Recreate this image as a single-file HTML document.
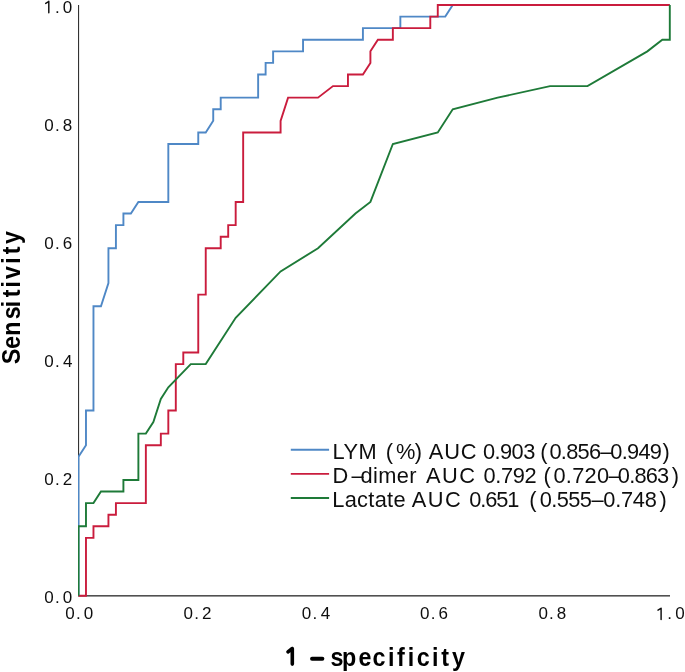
<!DOCTYPE html>
<html><head><meta charset="utf-8"><style>
html,body{margin:0;padding:0;background:#fff;}
svg{display:block;will-change:transform;}
text{font-family:"Liberation Sans", sans-serif;}
</style></head><body>
<svg width="685" height="672" viewBox="0 0 685 672">
<rect width="685" height="672" fill="#fff"/>
<defs><clipPath id="pc"><rect x="77.9" y="0" width="600" height="600"/></clipPath></defs>
<rect x="78" y="5" width="1.1" height="591" fill="#333"/>
<rect x="78" y="595" width="592" height="1.6" fill="#505050"/>
<polyline clip-path="url(#pc)" points="78.50,595.80 78.50,456.79 85.98,445.20 85.98,410.45 93.47,410.45 93.47,306.19 100.95,306.19 108.44,283.02 108.44,248.27 115.92,248.27 115.92,225.10 123.41,225.10 123.41,213.52 130.89,213.52 138.38,201.93 168.32,201.93 168.32,144.01 198.26,144.01 198.26,132.43 205.74,132.43 213.23,120.84 213.23,109.26 220.71,109.26 220.71,97.67 258.14,97.67 258.14,74.51 265.62,74.51 265.62,62.92 273.11,62.92 273.11,51.34 303.04,51.34 303.04,39.75 362.92,39.75 362.92,28.17 400.35,28.17 400.35,16.58 445.26,16.58 452.74,5.00 669.80,5.00" fill="none" stroke="#4f88c6" stroke-width="1.9" stroke-linejoin="miter" stroke-linecap="butt"/>
<polyline clip-path="url(#pc)" points="78.50,595.80 85.98,595.80 85.98,537.88 93.47,537.88 93.47,526.29 108.44,526.29 108.44,514.71 115.92,514.71 115.92,503.13 145.86,503.13 145.86,445.20 160.83,445.20 160.83,433.62 168.32,433.62 168.32,410.45 175.80,410.45 175.80,364.11 183.29,364.11 183.29,352.53 198.26,352.53 198.26,294.61 205.74,294.61 205.74,248.27 220.71,248.27 220.71,236.69 228.20,236.69 228.20,225.10 235.68,225.10 235.68,201.93 243.17,201.93 243.17,132.43 280.59,132.43 280.59,120.84 288.07,97.67 318.01,97.67 332.98,86.09 347.95,86.09 347.95,74.51 362.92,74.51 370.41,62.92 370.41,51.34 377.89,39.75 392.86,39.75 392.86,28.17 430.29,28.17 430.29,16.58 437.77,16.58 437.77,5.00 669.80,5.00" fill="none" stroke="#ca1c3d" stroke-width="1.9" stroke-linejoin="miter" stroke-linecap="butt"/>
<polyline clip-path="url(#pc)" points="78.50,595.80 78.50,526.29 85.98,526.29 85.98,503.13 93.47,503.13 100.95,491.54 123.41,491.54 123.41,479.96 138.38,479.96 138.38,433.62 145.86,433.62 153.35,422.04 160.83,398.87 168.32,387.28 190.77,364.11 205.74,364.11 235.68,317.78 280.59,271.44 318.01,248.27 355.44,213.52 370.41,201.93 392.86,144.01 437.77,132.43 452.74,109.26 497.65,97.67 550.04,86.09 587.47,86.09 647.35,51.34 662.32,39.75 669.80,39.75 669.80,5.00" fill="none" stroke="#1e7a38" stroke-width="1.9" stroke-linejoin="miter" stroke-linecap="butt"/>
<path d="M48.80 1.30 L48.80 12.65 M48.60 1.60 L45.70 3.40" fill="none" stroke="#0e0e0e" stroke-width="1.45" stroke-linecap="round" stroke-linejoin="round"/><text x="54.95" y="12.60" font-size="17" font-weight="normal" letter-spacing="0.000" fill="#0e0e0e" >.</text><text x="62.84" y="12.60" font-size="17" font-weight="normal" letter-spacing="0.000" fill="#0e0e0e" >0</text>
<text x="44.34" y="130.76" font-size="17" font-weight="normal" letter-spacing="0.000" fill="#0e0e0e" >0</text><text x="54.95" y="130.76" font-size="17" font-weight="normal" letter-spacing="0.000" fill="#0e0e0e" >.</text><text x="62.76" y="130.76" font-size="17" font-weight="normal" letter-spacing="0.000" fill="#0e0e0e" >8</text>
<text x="44.34" y="248.92" font-size="17" font-weight="normal" letter-spacing="0.000" fill="#0e0e0e" >0</text><text x="54.95" y="248.92" font-size="17" font-weight="normal" letter-spacing="0.000" fill="#0e0e0e" >.</text><text x="62.64" y="248.92" font-size="17" font-weight="normal" letter-spacing="0.000" fill="#0e0e0e" >6</text>
<text x="44.34" y="367.08" font-size="17" font-weight="normal" letter-spacing="0.000" fill="#0e0e0e" >0</text><text x="54.95" y="367.08" font-size="17" font-weight="normal" letter-spacing="0.000" fill="#0e0e0e" >.</text><text x="63.11" y="367.08" font-size="17" font-weight="normal" letter-spacing="0.000" fill="#0e0e0e" >4</text>
<text x="44.34" y="485.24" font-size="17" font-weight="normal" letter-spacing="0.000" fill="#0e0e0e" >0</text><text x="54.95" y="485.24" font-size="17" font-weight="normal" letter-spacing="0.000" fill="#0e0e0e" >.</text><text x="62.65" y="485.24" font-size="17" font-weight="normal" letter-spacing="0.000" fill="#0e0e0e" >2</text>
<text x="44.34" y="603.40" font-size="17" font-weight="normal" letter-spacing="0.000" fill="#0e0e0e" >0</text><text x="54.95" y="603.40" font-size="17" font-weight="normal" letter-spacing="0.000" fill="#0e0e0e" >.</text><text x="62.84" y="603.40" font-size="17" font-weight="normal" letter-spacing="0.000" fill="#0e0e0e" >0</text>
<text x="65.34" y="619.40" font-size="17" font-weight="normal" letter-spacing="0.000" fill="#0e0e0e" >0</text><text x="75.95" y="619.40" font-size="17" font-weight="normal" letter-spacing="0.000" fill="#0e0e0e" >.</text><text x="83.84" y="619.40" font-size="17" font-weight="normal" letter-spacing="0.000" fill="#0e0e0e" >0</text>
<text x="183.60" y="619.40" font-size="17" font-weight="normal" letter-spacing="0.000" fill="#0e0e0e" >0</text><text x="194.21" y="619.40" font-size="17" font-weight="normal" letter-spacing="0.000" fill="#0e0e0e" >.</text><text x="201.91" y="619.40" font-size="17" font-weight="normal" letter-spacing="0.000" fill="#0e0e0e" >2</text>
<text x="301.86" y="619.40" font-size="17" font-weight="normal" letter-spacing="0.000" fill="#0e0e0e" >0</text><text x="312.47" y="619.40" font-size="17" font-weight="normal" letter-spacing="0.000" fill="#0e0e0e" >.</text><text x="320.63" y="619.40" font-size="17" font-weight="normal" letter-spacing="0.000" fill="#0e0e0e" >4</text>
<text x="420.12" y="619.40" font-size="17" font-weight="normal" letter-spacing="0.000" fill="#0e0e0e" >0</text><text x="430.73" y="619.40" font-size="17" font-weight="normal" letter-spacing="0.000" fill="#0e0e0e" >.</text><text x="438.42" y="619.40" font-size="17" font-weight="normal" letter-spacing="0.000" fill="#0e0e0e" >6</text>
<text x="538.38" y="619.40" font-size="17" font-weight="normal" letter-spacing="0.000" fill="#0e0e0e" >0</text><text x="548.99" y="619.40" font-size="17" font-weight="normal" letter-spacing="0.000" fill="#0e0e0e" >.</text><text x="556.80" y="619.40" font-size="17" font-weight="normal" letter-spacing="0.000" fill="#0e0e0e" >8</text>
<path d="M661.10 608.10 L661.10 619.45 M660.90 608.40 L658.00 610.20" fill="none" stroke="#0e0e0e" stroke-width="1.45" stroke-linecap="round" stroke-linejoin="round"/><text x="667.25" y="619.40" font-size="17" font-weight="normal" letter-spacing="0.000" fill="#0e0e0e" >.</text><text x="675.14" y="619.40" font-size="17" font-weight="normal" letter-spacing="0.000" fill="#0e0e0e" >0</text>
<path d="M292.3 648.6 L292.3 664.1 M292.0 648.6 L288.0 651.9" fill="none" stroke="#000" stroke-width="3.6" stroke-linecap="round" stroke-linejoin="round"/>
<line x1="312.0" y1="658.8" x2="322.4" y2="658.8" stroke="#000" stroke-width="3.9" stroke-linecap="round"/>
<text transform="scale(0.88,1)" x="375.66 388.74 407.34 423.18 440.99 451.24 463.49 473.52 490.99 501.50 513.73" y="665.70" font-size="26.5" font-weight="bold" fill="#000" >specificity</text>
<g transform="translate(19.9,0) rotate(-90)"><text transform="scale(0.88,1)" x="-413.82 -396.64 -381.67 -362.75 -349.01 -337.94 -326.85 -316.91 -299.69 -288.84 -277.40" y="0.00" font-size="26.5" font-weight="bold" fill="#000" >Sensitivity</text></g>
<line x1="290.8" y1="449.7" x2="329.1" y2="449.7" stroke="#4f88c6" stroke-width="1.9"/>
<text x="332.61" y="458.80" font-size="21.8" font-weight="normal" letter-spacing="0.376" fill="#0e0e0e" >LYM</text>
<text x="385.65" y="458.80" font-size="21.8" font-weight="normal" letter-spacing="0.000" fill="#0e0e0e" >(</text>
<text x="396.02" y="458.80" font-size="21.8" font-weight="normal" letter-spacing="0.000" fill="#0e0e0e" >%</text>
<text x="414.87" y="458.80" font-size="21.8" font-weight="normal" letter-spacing="0.000" fill="#0e0e0e" >)</text>
<text x="428.86" y="458.80" font-size="21.8" font-weight="normal" letter-spacing="0.773" fill="#0e0e0e" >AUC</text>
<text x="483.05" y="458.80" font-size="21.8" font-weight="normal" letter-spacing="-0.586" fill="#0e0e0e" >0.903</text>
<text x="540.25" y="458.80" font-size="21.8" font-weight="normal" letter-spacing="0.000" fill="#0e0e0e" >(</text>
<text x="549.45" y="458.80" font-size="21.8" font-weight="normal" letter-spacing="-0.736" fill="#0e0e0e" >0.856</text>
<text x="600.30" y="458.80" font-size="21.8" font-weight="normal" letter-spacing="0.000" fill="#0e0e0e" >–</text>
<text x="610.25" y="458.80" font-size="21.8" font-weight="normal" letter-spacing="-0.717" fill="#0e0e0e" >0.949</text>
<text x="662.47" y="458.80" font-size="21.8" font-weight="normal" letter-spacing="0.000" fill="#0e0e0e" >)</text>
<line x1="290.8" y1="473.85" x2="329.1" y2="473.85" stroke="#ca1c3d" stroke-width="1.9"/>
<text x="332.61" y="482.60" font-size="21.8" font-weight="normal" letter-spacing="0.000" fill="#0e0e0e" >D</text>
<text x="351.60" y="482.60" font-size="21.8" font-weight="normal" letter-spacing="0.000" fill="#0e0e0e" >–</text>
<text x="360.48" y="482.60" font-size="21.8" font-weight="normal" letter-spacing="0.367" fill="#0e0e0e" >dimer</text>
<text x="426.06" y="482.60" font-size="21.8" font-weight="normal" letter-spacing="1.473" fill="#0e0e0e" >AUC</text>
<text x="483.55" y="482.60" font-size="21.8" font-weight="normal" letter-spacing="-0.376" fill="#0e0e0e" >0.792</text>
<text x="543.45" y="482.60" font-size="21.8" font-weight="normal" letter-spacing="0.000" fill="#0e0e0e" >(</text>
<text x="553.45" y="482.60" font-size="21.8" font-weight="normal" letter-spacing="0.287" fill="#0e0e0e" >0.720</text>
<text x="608.40" y="482.60" font-size="21.8" font-weight="normal" letter-spacing="0.000" fill="#0e0e0e" >–</text>
<text x="617.85" y="482.60" font-size="21.8" font-weight="normal" letter-spacing="-0.786" fill="#0e0e0e" >0.863</text>
<text x="671.67" y="482.60" font-size="21.8" font-weight="normal" letter-spacing="0.000" fill="#0e0e0e" >)</text>
<line x1="290.8" y1="498.0" x2="329.1" y2="498.0" stroke="#1e7a38" stroke-width="1.9"/>
<text x="332.31" y="506.70" font-size="21.8" font-weight="normal" letter-spacing="0.291" fill="#0e0e0e" >Lactate</text>
<text x="411.66" y="506.70" font-size="21.8" font-weight="normal" letter-spacing="1.473" fill="#0e0e0e" >AUC</text>
<text x="469.35" y="506.70" font-size="21.8" font-weight="normal" letter-spacing="-1.159" fill="#0e0e0e" >0.651</text>
<text x="529.15" y="506.70" font-size="21.8" font-weight="normal" letter-spacing="0.000" fill="#0e0e0e" >(</text>
<text x="539.85" y="506.70" font-size="21.8" font-weight="normal" letter-spacing="-0.622" fill="#0e0e0e" >0.555</text>
<text x="591.60" y="506.70" font-size="21.8" font-weight="normal" letter-spacing="0.000" fill="#0e0e0e" >–</text>
<text x="603.25" y="506.70" font-size="21.8" font-weight="normal" letter-spacing="-0.239" fill="#0e0e0e" >0.748</text>
<text x="659.47" y="506.70" font-size="21.8" font-weight="normal" letter-spacing="0.000" fill="#0e0e0e" >)</text>
</svg>
</body></html>
